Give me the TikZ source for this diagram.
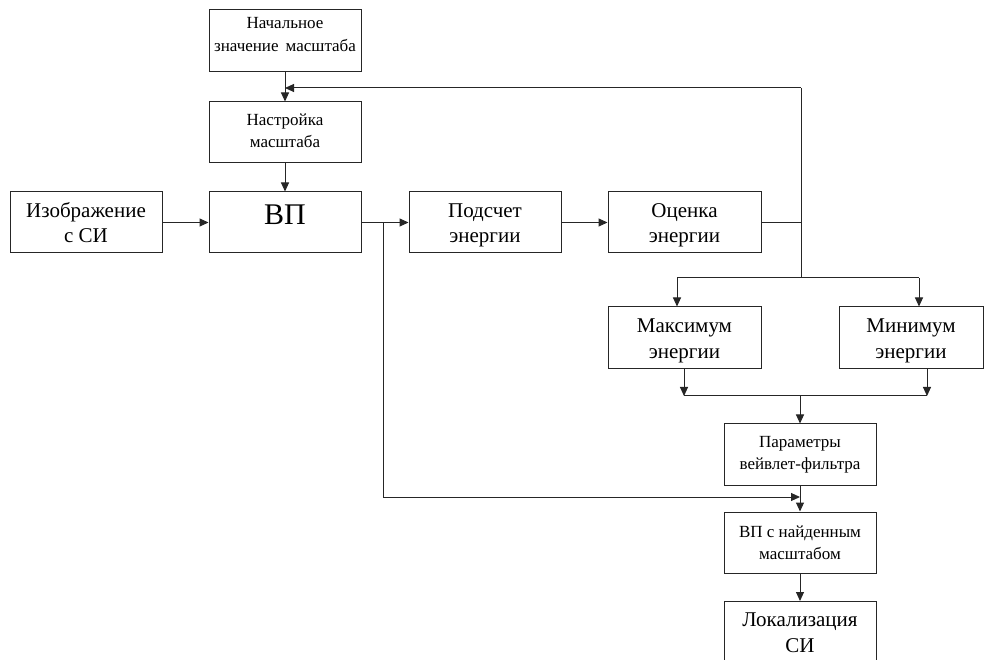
\documentclass[tikz,border=0pt]{standalone}
\usepackage{fontspec}
\setmainfont{Liberation Serif}
\usetikzlibrary{arrows.meta,calc}
\newcommand{\twoline}[2]{\rule{0pt}{21pt}#1\\#2\rule[-5.5pt]{0pt}{5.5pt}}
\begin{document}
\begin{tikzpicture}[x=1pt,y=-1pt,
  box/.style={draw=black!85,line width=1pt,rectangle,inner sep=0pt,
    minimum width=152pt,minimum height=61pt,align=center,
    font=\fontsize{21}{25.5}\selectfont},
  smallbox/.style={box,font=\fontsize{17}{22}\selectfont},
  txt/.style={inner sep=0pt,align=center},
  conn/.style={draw=black!85,line width=1pt},
  arr/.style={conn,-{Triangle[length=9pt,width=8pt]}}]
\useasboundingbox (0,0) rectangle (986,660);
\node[smallbox,minimum height=62pt] (nach) at (285,41) {};
\node[txt,font=\fontsize{17}{23.5}\selectfont] (nachtxt) at ($(nach)+(0,-6.5)$) {Начальное\\значение~\,масштаба};
\node[smallbox] (nastr) at (285,132.5) {};
\node[txt,font=\fontsize{17}{22}\selectfont] (nastrtxt) at ($(nastr)+(0,-1.5)$) {Настройка\\масштаба};
\node[box] (vp) at (285,222.5) {};
\node[txt,font=\fontsize{30}{30}\selectfont] (vptxt) at ($(vp)+(0,-8)$) {ВП};
\node[box] (izo) at (86,222.5) {\twoline{Изображение}{с СИ}};
\node[box] (pods) at (485,222.5) {\twoline{Подсчет}{энергии}};
\node[box,minimum width=153pt] (ots) at (684.5,222.5) {\twoline{Оценка}{энергии}};
\node[box,minimum width=153pt,minimum height=62pt] (max) at (684.5,338) {\twoline{Максимум}{энергии}};
\node[box,minimum width=144pt,minimum height=62pt] (min) at (911,338) {\twoline{Минимум}{энергии}};
\node[smallbox] (par) at (800,454.5) {Параметры\\вейвлет-фильтра};
\node[smallbox] (vpn) at (800,542.5) {ВП с найденным\\масштабом};
\node[box,minimum height=62pt] (lok) at (800,632.5) {Локализация\\СИ};

\coordinate (fbtop) at (801,88);
\coordinate (fbmid) at (801,222.5);
\coordinate (fbbot) at (801,278);
\coordinate (lmax) at (677,278);
\coordinate (lmin) at (919,278);
\coordinate (jmax) at (684,396);
\coordinate (jmin) at (927,396);
\coordinate (jmid) at (par.north |- jmax);
\coordinate (br) at (383,222.5);
\coordinate (brb) at (383,497);
\coordinate (brend) at (par.south |- brb);

\draw[arr] (nach.south) -- (nastr.north);
\draw[arr] (nastr.south) -- (vp.north);
\draw[arr] (izo.east) -- (vp.west);
\draw[arr] (vp.east) -- (pods.west);
\draw[arr] (pods.east) -- (ots.west);
\draw[conn] (ots.east) -- (fbmid);
\draw[conn] (fbbot) -- (fbtop);
\draw[arr] (fbtop) -- (nach.south |- fbtop);
\draw[conn] (lmax) -- (lmin);
\draw[arr] (lmax) -- (lmax |- max.north);
\draw[arr] (lmin) -- (lmin |- min.north);
\draw[arr] (jmax |- max.south) -- (jmax);
\draw[arr] (jmin |- min.south) -- (jmin);
\draw[conn] (jmax) -- (jmin);
\draw[arr] (jmid) -- (par.north);
\draw[conn] (br) -- (brb);
\draw[arr] (brb) -- (brend);
\draw[arr] (par.south) -- (vpn.north);
\draw[arr] (vpn.south) -- (lok.north);
\end{tikzpicture}
\end{document}
